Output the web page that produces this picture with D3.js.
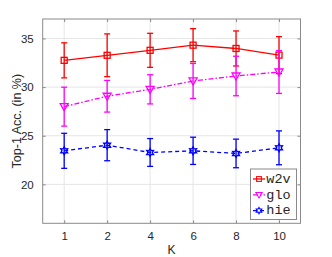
<!DOCTYPE html>
<html><head><meta charset="utf-8">
<script src="https://cdn.jsdelivr.net/npm/d3@7"></script>
<style>body{margin:0;background:#fff}svg{display:block}</style>
</head><body><svg id="c" width="332" height="257"></svg>
<script>
const categories = ["1","2","4","6","8","10"];
const yTicks = [20,25,30,35];
const w2vVals = [32.75,33.27,33.78,34.31,33.97,33.29];
const w2vErr  = [1.8,2.2,1.75,1.7,1.8,1.9];
const gloVals = [27.99,29.06,29.77,30.63,31.14,31.55];
const gloErr  = [2.0,1.63,1.5,1.8,2.03,2.2];
const hieVals = [23.45,24.03,23.28,23.45,23.18,23.76];
const hieErr  = [1.8,1.6,1.43,1.4,1.47,1.74];
const seriesNames = ["w2v","glo","hie"];

const series = [
  {name:seriesNames[0], vals:w2vVals, err:w2vErr, color:"#ff0000", dash:null, marker:"square"},
  {name:seriesNames[1], vals:gloVals, err:gloErr, color:"#ff00ff", dash:"5,2,1.5,2", marker:"tri"},
  {name:seriesNames[2], vals:hieVals, err:hieErr, color:"#0000ff", dash:"4,3", marker:"star"}
];

const svg = d3.select("#c");
const L=42.7, R=300.5, T=19, B=223.3;
const x = d3.scaleLinear().domain([-0.5,5.5]).range([L,R]);
const y = d3.scaleLinear().domain([16,37]).range([B,T]);
const FONT = "Liberation Sans, Arial, sans-serif";

// grid
const g = svg.append("g");
g.selectAll(".gx").data(categories).enter().append("line")
  .attr("x1",(d,i)=>x(i)).attr("x2",(d,i)=>x(i)).attr("y1",T).attr("y2",B)
  .attr("stroke","#e5e5e5").attr("stroke-width",1);
g.selectAll(".gy").data(yTicks).enter().append("line")
  .attr("x1",L).attr("x2",R).attr("y1",d=>y(d)).attr("y2",d=>y(d))
  .attr("stroke","#e5e5e5").attr("stroke-width",1);

// axes
const ax = d3.axisBottom(x).tickValues(d3.range(categories.length)).tickFormat(i=>categories[i]).tickSizeInner(-3).tickSizeOuter(0).tickPadding(9);
const axT = d3.axisTop(x).tickValues(d3.range(categories.length)).tickFormat("").tickSizeInner(-3).tickSizeOuter(0);
const ay = d3.axisLeft(y).tickValues(yTicks).tickSizeInner(-3).tickSizeOuter(0).tickPadding(9);
const ayR = d3.axisRight(y).tickValues(yTicks).tickFormat("").tickSizeInner(-3).tickSizeOuter(0);
function style(sel){
  sel.selectAll("path").attr("stroke","#8a8a8a");
  sel.selectAll("line").attr("stroke","#8a8a8a");
  sel.selectAll("text").attr("fill","#262626").style("font-family",FONT).style("font-size","11.5px");
}
svg.append("g").attr("transform",`translate(0,${B})`).call(ax).call(style);
svg.append("g").attr("transform",`translate(0,${T})`).call(axT).call(style);
svg.append("g").attr("transform",`translate(${L},0)`).call(ay).call(style);
svg.append("g").attr("transform",`translate(${R},0)`).call(ayR).call(style);
svg.selectAll(".domain").attr("d",null);
svg.append("rect").attr("x",L).attr("y",T).attr("width",R-L).attr("height",B-T)
  .attr("fill","none").attr("stroke","#8a8a8a").attr("stroke-width",1);

// labels
svg.append("text").attr("x",x(2.5)).attr("y",254).attr("text-anchor","middle")
  .style("font-family",FONT).style("font-size","12px").attr("fill","#262626").text("K");
svg.append("text").attr("transform",`translate(21,${(T+B)/2}) rotate(-90)`).attr("text-anchor","middle")
  .style("font-family",FONT).style("font-size","12.5px").attr("fill","#262626").text("Top-1 Acc. (in %)");

function drawMarker(sel, type, color){
  if(type==="square"){
    sel.append("rect").attr("x",-3).attr("y",-3).attr("width",6).attr("height",6)
      .attr("fill","none").attr("stroke",color).attr("stroke-width",1.3);
  } else if(type==="tri"){
    sel.append("path").attr("d","M-4,-3L4,-3L0,4Z").attr("fill","none").attr("stroke",color).attr("stroke-width",1.3);
  } else {
    const r1=4, r2=2.2; let pts=[];
    for(let k=0;k<12;k++){const a=-Math.PI/2+k*Math.PI/6; const r=k%2?r2:r1; pts.push([r*Math.cos(a),r*Math.sin(a)]);}
    sel.append("path").attr("d","M"+pts.map(p=>p.join(",")).join("L")+"Z")
      .attr("fill","none").attr("stroke",color).attr("stroke-width",1.3);
  }
}

const line = d3.line().x((d,i)=>x(i)).y(d=>y(d));
series.forEach(s=>{
  const gs = svg.append("g");
  s.vals.forEach((v,i)=>{
    const x0=x(i), yt=y(v+s.err[i]), yb=y(v-s.err[i]);
    gs.append("line").attr("x1",x0).attr("x2",x0).attr("y1",yt).attr("y2",yb).attr("stroke",s.color).attr("stroke-width",1.3);
    gs.append("line").attr("x1",x0-3).attr("x2",x0+3).attr("y1",yt).attr("y2",yt).attr("stroke",s.color).attr("stroke-width",1.3);
    gs.append("line").attr("x1",x0-3).attr("x2",x0+3).attr("y1",yb).attr("y2",yb).attr("stroke",s.color).attr("stroke-width",1.3);
  });
  gs.append("path").attr("d",line(s.vals)).attr("fill","none").attr("stroke",s.color).attr("stroke-width",1.3)
    .attr("stroke-dasharray",s.dash);
  s.vals.forEach((v,i)=>{
    drawMarker(gs.append("g").attr("transform",`translate(${x(i)},${y(v)})`), s.marker, s.color);
  });
});

// legend
const lg = svg.append("g");
lg.append("rect").attr("x",250.5).attr("y",169).attr("width",46).attr("height",50.5)
  .attr("fill","#fff").attr("stroke","#8a8a8a").attr("stroke-width",1);
series.forEach((s,k)=>{
  const yy = 179 + k*15.8;
  lg.append("line").attr("x1",253).attr("x2",265).attr("y1",yy).attr("y2",yy).attr("stroke",s.color).attr("stroke-width",1.3)
    .attr("stroke-dasharray",s.dash);
  drawMarker(lg.append("g").attr("transform",`translate(259,${yy}) scale(0.8)`), s.marker, s.color);
  lg.append("text").attr("x",266.3).attr("y",yy+3.8).style("font-family","Liberation Mono, Courier New, monospace")
    .style("font-size","13.5px").attr("fill","#262626").text(s.name);
});
</script></body></html>
